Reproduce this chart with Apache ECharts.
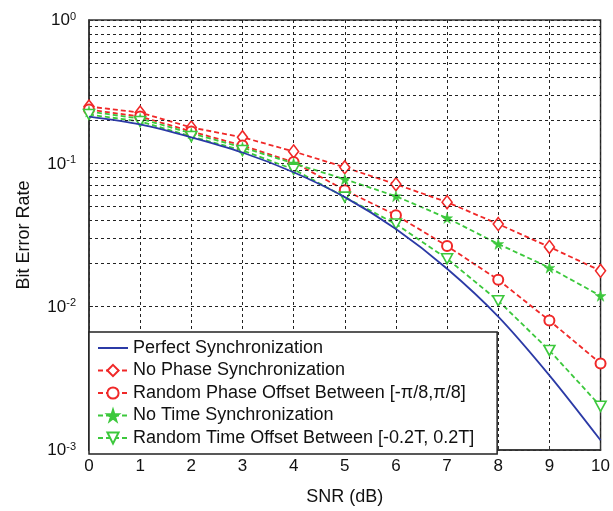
<!DOCTYPE html>
<html>
<head>
<meta charset="utf-8">
<script src="https://cdn.jsdelivr.net/npm/echarts@6/dist/echarts.min.js"></script>
<style>html,body{margin:0;padding:0;background:#fff}#c{width:613px;height:511px}</style>
</head>
<body>
<div id="c"></div>
<script>
var snr = [0,1,2,3,4,5,6,7,8,9,10];
var perfectSync = [0.212,0.187,0.152,0.119,0.0866,0.0581,0.0348,0.0184,0.00853,0.00332,0.00117];
var noPhaseSync = [0.249,0.226,0.178,0.152,0.121,0.0938,0.0715,0.0536,0.0377,0.0261,0.0178];
var randPhaseOffset = [0.237,0.212,0.167,0.133,0.102,0.0650,0.0435,0.0265,0.0154,0.0080,0.00402];
var noTimeSync = [0.230,0.205,0.162,0.129,0.100,0.0774,0.0590,0.0415,0.0274,0.0187,0.0119];
var randTimeOffset = [0.219,0.196,0.154,0.123,0.0908,0.0581,0.0377,0.0216,0.0110,0.00495,0.00202];
var seriesNames = ['Perfect Synchronization','No Phase Synchronization','Random Phase Offset Between [-\u03c0/8,\u03c0/8]','No Time Synchronization','Random Time Offset Between [-0.2T, 0.2T]'];
var decadeExp = {'1':'0','0.1':'-1','0.01':'-2','0.001':'-3'};
var minorMantissa = [2,3,4,5,6,7,8,9];
var minorDecades = [0.001,0.01,0.1];

function pairs(v){ return snr.map(function(x,i){ return [x, v[i]]; }); }
var minorLines = [];
minorDecades.forEach(function(d){ minorMantissa.forEach(function(m){ minorLines.push({yAxis: +(m*d).toPrecision(3)}); }); });

var RED = '#f02828', GREEN = '#3cc83c', BLUE = '#2b3aa6';
var FONT = 'Liberation Sans, Arial, sans-serif';
var starPath = 'path://M50,0 L61,35 L98,35 L68,57 L79,92 L50,70 L21,92 L32,57 L2,35 L39,35 Z';

var legendData = seriesNames.map(function(n, i){
  return i === 0 ? {name:n, itemStyle:{color:'rgba(0,0,0,0)', borderColor:'rgba(0,0,0,0)', borderWidth:0}} : {name:n};
});

var chart = echarts.init(document.getElementById('c'), null, {renderer:'canvas'});
chart.setOption({
  animation:false,
  backgroundColor:'#fff',
  textStyle:{fontFamily:FONT},
  grid:{left:89, right:4, top:20, bottom:59, show:true, borderColor:'#333', borderWidth:1.5, backgroundColor:'transparent'},
  xAxis:{
    type:'value', min:0, max:10, interval:1,
    name:'SNR (dB)', nameLocation:'middle', nameGap:38,
    nameTextStyle:{fontSize:18, color:'#111', fontFamily:FONT},
    axisLine:{show:true, lineStyle:{color:'#333', width:1.5}},
    axisTick:{show:true, inside:true, length:4, lineStyle:{color:'#333'}},
    axisLabel:{fontSize:17, color:'#111', margin:8},
    splitLine:{show:true, lineStyle:{color:'#222', width:1, type:[3,3]}}
  },
  yAxis:{
    type:'log', logBase:10, min:0.001, max:1,
    name:'Bit Error Rate', nameLocation:'middle', nameGap:56, nameRotate:90,
    nameTextStyle:{fontSize:18, color:'#111', fontFamily:FONT},
    axisLine:{show:true, lineStyle:{color:'#333', width:1.5}},
    axisTick:{show:true, inside:true, length:4, lineStyle:{color:'#333'}},
    axisLabel:{margin:13, formatter:function(v){ var k=String(+v.toPrecision(3)); return '{b|10}{s|'+(decadeExp[k]||'')+'}'; },
      rich:{b:{fontSize:17, color:'#111', verticalAlign:'bottom', lineHeight:18}, s:{fontSize:11, color:'#111', verticalAlign:'top', lineHeight:18, padding:[0,0,9,0]}}},
    splitLine:{show:true, lineStyle:{color:'#222', width:1, type:[3,3]}}
  },
  legend:{
    orient:'vertical', left:89, top:332,
    data:legendData,
    backgroundColor:'#fff', borderColor:'#222', borderWidth:1.5, borderRadius:0,
    padding:[7,23,7,8], itemGap:4.5, itemWidth:30, itemHeight:14,
    textStyle:{fontSize:18, color:'#111', fontFamily:FONT, lineHeight:18}
  },
  series:[
    {type:'line', name:'grid', data:[], silent:true, z:1,
      markLine:{silent:true, symbol:['none','none'], label:{show:false}, animation:false,
        lineStyle:{color:'#222', width:1, type:[3,3]}, data:minorLines}},
    {type:'line', name:seriesNames[0], data:pairs(perfectSync), smooth:0.3, symbol:'none', showSymbol:false, z:5,
      lineStyle:{color:BLUE, width:1.8}, itemStyle:{color:BLUE}},
    {type:'line', name:seriesNames[1], data:pairs(noPhaseSync), symbol:'diamond', symbolSize:[10,13], z:4,
      lineStyle:{color:RED, width:1.8, type:[5,3]}, itemStyle:{color:'#fff', borderColor:RED, borderWidth:1.6}},
    {type:'line', name:seriesNames[2], data:pairs(randPhaseOffset), symbol:'emptyCircle', symbolSize:10, z:4,
      lineStyle:{color:RED, width:1.8, type:[5,3]}, itemStyle:{color:RED, borderColor:RED, borderWidth:1.6}},
    {type:'line', name:seriesNames[3], data:pairs(noTimeSync), symbol:starPath, symbolSize:11, z:4,
      lineStyle:{color:GREEN, width:1.8, type:[5,3]}, itemStyle:{color:GREEN, borderColor:GREEN, borderWidth:0.5}},
    {type:'line', name:seriesNames[4], data:pairs(randTimeOffset), symbol:'path://M0,0 L100,0 L50,90 Z', symbolSize:[11,10], z:4,
      lineStyle:{color:GREEN, width:1.8, type:[5,3]}, itemStyle:{color:'#fff', borderColor:GREEN, borderWidth:1.6}}
  ]
});
</script>
</body>
</html>
